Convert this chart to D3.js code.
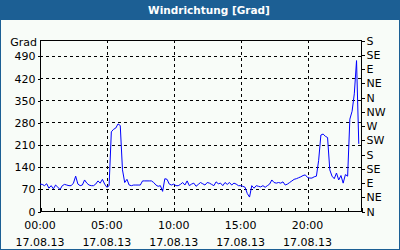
<!DOCTYPE html>
<html>
<head>
<meta charset="utf-8">
<script src="https://cdn.jsdelivr.net/npm/d3@7"></script>
<style>
  body { margin: 0; background: #fff; }
  svg { display: block; font-family: "DejaVu Sans", sans-serif; }
</style>
</head>
<body>
<div id="chart"></div>
<script>
// wind direction in degrees, one value every 10 minutes from 00:00
const windDir = [
  85, 84, 80, 86, 72, 80,      // 0h
  70, 82, 75, 68, 80, 84,      // 1h
  82, 80, 80, 88, 110, 85,     // 2h
  80, 82, 98, 88, 82, 80,      // 3h
  80, 85, 95, 88, 100, 85,     // 4h
  75, 80, 250, 258, 262, 275,  // 5h
  270, 130, 90, 100, 82, 80,   // 6h
  82, 82, 82, 82, 95, 95,      // 7h
  95, 95, 95, 90, 82, 78,      // 8h
  80, 62, 102, 100, 85, 82,    // 9h
  85, 80, 80, 84, 90, 82,      // 10h
  95, 80, 85, 88, 78, 84,      // 11h
  90, 86, 82, 90, 88, 84,      // 12h
  80, 92, 86, 88, 80, 90,      // 13h
  84, 90, 82, 88, 85, 80,      // 14h
  80, 78, 75, 55, 44, 80,      // 15h
  72, 80, 78, 76, 80, 75,      // 16h
  80, 85, 98, 90, 88, 90,      // 17h
  88, 92, 82, 85, 90, 95,      // 18h
  100, 102, 105, 108, 112, 114,// 19h
  106, 104, 104, 108, 110, 160,// 20h
  240, 243, 236, 232, 130, 110,// 21h
  102, 120, 98, 112, 88, 115,  // 22h
  110, 290, 315, 370, 475, 212 // 23h
];
const leftTicks = [0, 70, 140, 210, 280, 350, 420, 490];
const rightTicks = [0, 45, 90, 135, 180, 225, 270, 315, 360, 405, 450, 495, 540];
const rightLabels = ["N", "NE", "E", "SE", "S", "SW", "W", "NW", "N", "NE", "E", "SE", "S"];
const hourTicks = d3.range(0, 25);
const timeLabels = ["00:00", "05:00", "10:00", "15:00", "20:00"];
const timeLabelHours = [0, 5, 10, 15, 20];
const dateLabel = "17.08.13";

const W = 400, H = 250;
const plot = { left: 40, right: 361, top: 40, bottom: 211 };

const svg = d3.select("#chart").append("svg")
  .attr("width", W).attr("height", H);

// frame + title bar
svg.append("rect").attr("x", 0.5).attr("y", 0.5).attr("width", W - 1).attr("height", H - 1)
  .attr("fill", "#f8fcf8").attr("stroke", "#1c5f94").attr("stroke-width", 1);
svg.append("rect").attr("x", 0).attr("y", 0).attr("width", W).attr("height", 20)
  .attr("fill", "#1c5f94");
svg.append("text").attr("x", 209).attr("y", 14)
  .attr("text-anchor", "middle").attr("fill", "#fff")
  .attr("font-weight", "bold").attr("font-size", 10.5)
  .text("Windrichtung [Grad]");

const x = d3.scaleLinear().domain([0, 24]).range([plot.left, plot.right]);
const y = d3.scaleLinear().domain([0, 540]).range([plot.bottom, plot.top]);

const g = svg.append("g").attr("shape-rendering", "crispEdges");

// grid
g.selectAll(".hgrid").data(leftTicks.filter(d => d > 0)).enter().append("line")
  .attr("x1", plot.left).attr("x2", plot.right)
  .attr("y1", d => Math.round(y(d)) + 0.5).attr("y2", d => Math.round(y(d)) + 0.5)
  .attr("stroke", "#000").attr("stroke-dasharray", "3,3");
g.selectAll(".vgrid").data(timeLabelHours.filter(d => d > 0)).enter().append("line")
  .attr("x1", d => Math.round(x(d)) + 0.5).attr("x2", d => Math.round(x(d)) + 0.5)
  .attr("y1", plot.top).attr("y2", plot.bottom)
  .attr("stroke", "#000").attr("stroke-dasharray", "3,3");

// data line
svg.append("path")
  .datum(windDir)
  .attr("fill", "none")
  .attr("stroke", "#0000ff")
  .attr("stroke-width", 1)
  .attr("d", d3.line().x((d, i) => x(i / 6)).y(d => y(d)));

// plot box
g.append("rect")
  .attr("x", plot.left + 0.5).attr("y", plot.top + 0.5)
  .attr("width", plot.right - plot.left).attr("height", plot.bottom - plot.top)
  .attr("fill", "none").attr("stroke", "#000");

// left axis
const left = svg.append("g").attr("transform", `translate(${plot.left + 0.5},0.5)`)
  .call(d3.axisLeft(y).tickValues(leftTicks).tickSize(3).tickPadding(2));
left.select(".domain").remove();
left.selectAll("text").attr("font-size", 11).attr("font-family", "DejaVu Sans").attr("fill", "#000");
left.selectAll("line").attr("shape-rendering", "crispEdges");

svg.append("text").attr("x", 37).attr("y", 46).attr("text-anchor", "end")
  .attr("font-size", 11).text("Grad");

// right axis (compass)
const right = svg.append("g").attr("transform", `translate(${plot.right + 0.5},0.5)`)
  .call(d3.axisRight(y).tickValues(rightTicks).tickSize(3).tickPadding(2)
    .tickFormat((d, i) => rightLabels[i]));
right.select(".domain").remove();
right.selectAll("text").attr("font-size", 11).attr("font-family", "DejaVu Sans").attr("fill", "#000");
right.selectAll("line").attr("shape-rendering", "crispEdges");

// bottom axis: hourly inner ticks
const bottom = svg.append("g").attr("transform", `translate(0.5,${plot.bottom + 0.5})`)
  .call(d3.axisBottom(x).tickValues(hourTicks).tickSize(-4).tickFormat(""));
bottom.select(".domain").remove();
bottom.selectAll("line").attr("shape-rendering", "crispEdges");

const lbl = svg.append("g").attr("font-size", 11).attr("text-anchor", "middle");
lbl.selectAll(".t").data(timeLabelHours).enter().append("text")
  .attr("x", d => x(d)).attr("y", 229)
  .text((d, i) => timeLabels[i]);
lbl.selectAll(".d").data(timeLabelHours).enter().append("text")
  .attr("x", d => x(d)).attr("y", 246)
  .text(dateLabel);
</script>
</body>
</html>
